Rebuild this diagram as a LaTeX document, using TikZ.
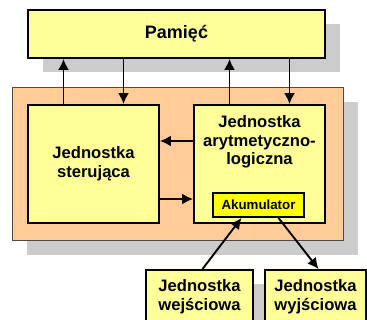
\documentclass[tikz,border=0pt]{standalone}
\usepackage{fontspec}
\setmainfont{Liberation Sans}
\usetikzlibrary{arrows.meta,shadows}
\definecolor{unitfill}{HTML}{FFFF99}
\definecolor{cpufill}{HTML}{FFCC99}
\definecolor{accfill}{HTML}{FFFF00}
\definecolor{shadowgray}{HTML}{CCCCCC}
\begin{document}
\begin{tikzpicture}[
  x=1pt, y=-1pt,
  shadowed/.style={drop shadow={shadow xshift=14.5pt, shadow yshift=-14.5pt,
                   fill=shadowgray, opacity=1}},
  unit/.style={rectangle, draw, line width=1.9pt, fill=unitfill,
               inner sep=0pt, align=center,
               font=\fontsize{16.6}{19}\selectfont\bfseries},
  cpu/.style={rectangle, draw=black!70, line width=1pt, fill=cpufill},
  acc/.style={rectangle, draw, line width=1.9pt, fill=accfill,
              font=\fontsize{13.3}{15}\selectfont\bfseries},
  txt/.style={align=center, font=\fontsize{16.6}{18.7}\selectfont\bfseries},
  arrow/.style={-{Latex[length=11pt, width=11pt]}, line width=1.9pt}
]
  \useasboundingbox (0,0) rectangle (367,320);

  % Pamiec
  \node[unit, shadowed, minimum width=297, minimum height=48,
        font=\fontsize{18}{20}\selectfont\bfseries] (mem) at (176.5,34) {Pamięć};

  % Procesor
  \node[cpu, shadowed, minimum width=331.5, minimum height=153] (cpu) at (177.75,164.5) {};

  \node[unit, minimum width=131, minimum height=118] (cu) at (93.5,164)
    {Jednostka\\sterująca};
  \node[unit, minimum width=131, minimum height=118] (alu) at (259.5,164) {};
  \node[txt] (alutxt) at (259.5,142) {Jednostka\\arytmetyczno-\\logiczna};
  \node[acc, minimum width=91, minimum height=24, inner sep=0pt] (akum) at (258.5,205) {Akumulator};

  % Urzadzenia wejscia/wyjscia
  \node[unit, shadowed, minimum width=107, minimum height=54] (wej) at (199.5,297)
    {Jednostka\\wejściowa};
  \node[unit, shadowed, minimum width=101, minimum height=54] (wyj) at (315.5,297)
    {Jednostka\\wyjściowa};

  % Polaczenia z pamiecia
  \foreach \u in {cu,alu} {
    \draw[arrow] ([xshift=-30]\u.north) -- ([xshift=-30]\u.north |- mem.south);
    \draw[arrow] ([xshift=30]\u.north |- mem.south) -- ([xshift=30]\u.north);
  }

  % Polaczenia wewnatrz procesora
  \draw[arrow] ([yshift=23]alu.west) -- ([yshift=23]alu.west -| cu.east);
  \draw[arrow] ([yshift=-35]cu.east) -- ([yshift=-35]cu.east -| alu.west);

  % Wejscie i wyjscie
  \draw[arrow] ([xshift=3]wej.north) -- ([xshift=-17]akum.south);
  \draw[arrow] ([xshift=20]akum.south) -- ([xshift=3]wyj.north);
\end{tikzpicture}
\end{document}
